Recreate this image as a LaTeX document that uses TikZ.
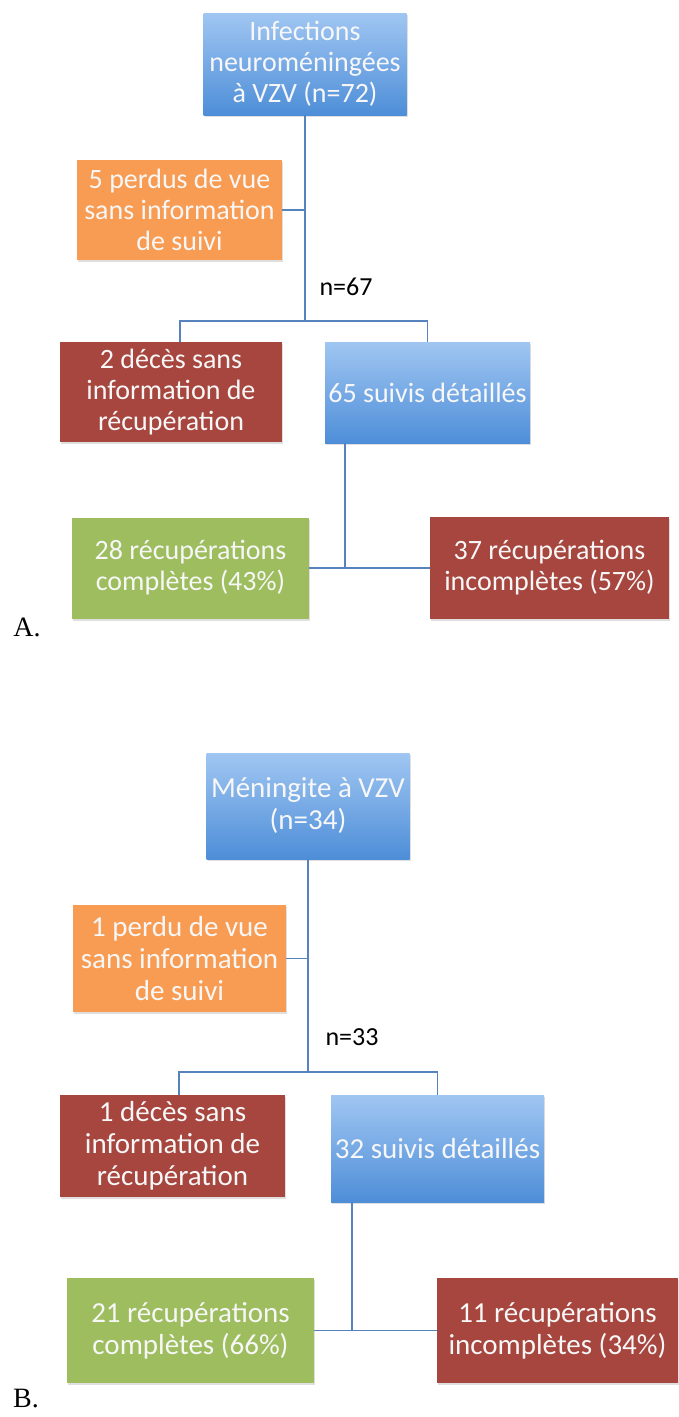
\documentclass[tikz,border=0pt]{standalone}
\usepackage{fontspec}
\setmainfont{Carlito}
\newfontfamily\panelfont{Liberation Serif}
\usetikzlibrary{shadows}
\definecolor{bluetop}{RGB}{160,198,242}
\definecolor{bluebottom}{RGB}{78,142,216}
\definecolor{lostorange}{RGB}{247,156,82}
\definecolor{deathred}{RGB}{166,70,62}
\definecolor{fullgreen}{RGB}{157,189,94}
\definecolor{linkblue}{RGB}{86,130,190}
\tikzset{box/.style={text=white!94!gray, align=center, inner sep=0pt,
  font=\fontsize{28}{31}\selectfont,
  drop shadow={opacity=0.25, shadow xshift=1pt, shadow yshift=-2pt}},
boxsize/.style 2 args={minimum width=#1pt, minimum height=#2pt},
bigtext/.style={font=\fontsize{29}{32}\selectfont},
bluebox/.style={box, top color=bluetop, bottom color=bluebottom},
orangebox/.style={box, fill=lostorange},
redbox/.style={box, fill=deathred},
greenbox/.style={box, fill=fullgreen},
link/.style={draw=linkblue, line width=1.3pt},
count/.style={font=\fontsize{26}{30}\selectfont},
panel/.style={font=\panelfont\fontsize{28}{30}\selectfont}}

\begin{document}
\begin{tikzpicture}[x=1pt, y=-1pt]
\useasboundingbox (0,0) rectangle (678,1417);
% A.
\node[bluebox, boxsize={203}{102}] (topA) at (305,64) {Infections\\neuroméningées\\à VZV (n=72)};
\node[orangebox, boxsize={205}{100}] (lostA) at (179.5,210) {5 perdus de vue\\sans information\\de suivi};
\node[count] (nA) at (346,287) {n=67};
\node[redbox, boxsize={222}{100}] (deathA) at (171,392) {2 décès sans\\information de\\récupération};
\node[bluebox, boxsize={205}{101}] (followA) at (427.5,392.5) {65 suivis détaillés};
\node[greenbox, boxsize={237}{101}] (compA) at (190.5,568) {28 récupérations\\complètes (43\%)};
\node[redbox, boxsize={239}{102}] (incompA) at (549.5,568) {37 récupérations\\incomplètes (57\%)};
\node[panel] (labA) at (27,627) {A.};
\coordinate (forkA) at (305,321);
\coordinate (dropA) at (180,321);
\coordinate (splitA) at (345,568);
\draw[link] (topA.south) -- (forkA);
\draw[link] (lostA.east) -- (lostA.east -| forkA);
\draw[link] (dropA |- deathA.north) -- (dropA) -- (followA.north |- dropA) -- (followA.north);
\draw[link] (splitA |- followA.south) -- (splitA);
\draw[link] (compA.east) -- (incompA.west);
% B.
\node[bluebox, boxsize={203}{106}, bigtext] (topB) at (308,806) {Méningite à VZV\\(n=34)};
\node[orangebox, boxsize={213}{107}, bigtext] (lostB) at (179.5,958.5) {1 perdu de vue\\sans information\\de suivi};
\node[count] (nB) at (352,1037) {n=33};
\node[redbox, boxsize={225}{102}, bigtext] (deathB) at (172.5,1146) {1 décès sans\\information de\\récupération};
\node[bluebox, boxsize={213}{107}, bigtext] (followB) at (437.5,1148.5) {32 suivis détaillés};
\node[greenbox, boxsize={247}{105}, bigtext] (compB) at (190.5,1330.5) {21 récupérations\\complètes (66\%)};
\node[redbox, boxsize={241}{105}, bigtext] (incompB) at (557.5,1330.5) {11 récupérations\\incomplètes (34\%)};
\node[panel] (labB) at (26,1399) {B.};
\coordinate (forkB) at (308,1072);
\coordinate (dropB) at (179,1072);
\coordinate (splitB) at (352,1330.5);
\draw[link] (topB.south) -- (forkB);
\draw[link] (lostB.east) -- (lostB.east -| forkB);
\draw[link] (dropB |- deathB.north) -- (dropB) -- (followB.north |- dropB) -- (followB.north);
\draw[link] (splitB |- followB.south) -- (splitB);
\draw[link] (compB.east) -- (incompB.west);
\end{tikzpicture}
\end{document}
